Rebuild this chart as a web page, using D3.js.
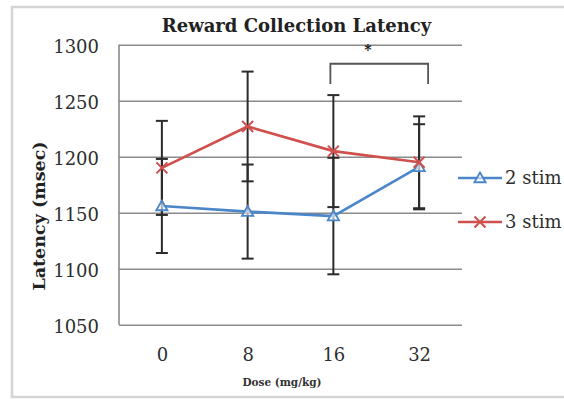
<!DOCTYPE html>
<html>
<head>
<meta charset="utf-8">
<script src="https://cdn.jsdelivr.net/npm/d3@7"></script>
<style>
  html, body { margin: 0; padding: 0; background: #fff; }
  svg { display: block; }
</style>
</head>
<body>
<svg id="chart" width="564" height="400"></svg>
<script>
// Dose groups and mean latencies (msec) with error bar half-widths
const doses = ["0", "8", "16", "32"];
const stim2 = [1156, 1151, 1147, 1191];
const stim2Err = [42, 42, 52, 38];
const stim3 = [1190, 1227, 1205, 1195];
const stim3Err = [42, 49, 50, 41];
const yTicks = [1050, 1100, 1150, 1200, 1250, 1300];
const seriesNames = ["2 stim", "3 stim"];
// significance bracket between two dose groups
const sigPair = ["16", "32"];
const sigTop = 1283;
const sigFoot = 1265;
const sigMark = "*";

(function () {
const svg = d3.select("#chart");
const serif = "'DejaVu Serif', serif";
const plotL = 119, plotR = 462, plotT = 44.7, plotB = 324.7;

const x = d3.scalePoint().domain(doses).range([plotL, plotR]).padding(0.5);
const y = d3.scaleLinear().domain([1050, 1300]).range([plotB, plotT]);

// outer chart frame
svg.append("rect")
  .attr("x", 12).attr("y", 7).attr("width", 600).attr("height", 390)
  .attr("fill", "#fff").attr("stroke", "#d4d4d4").attr("stroke-width", 2.5);

// value axis with gridlines
const yAxis = svg.append("g")
  .attr("transform", `translate(${plotL},0)`)
  .call(d3.axisLeft(y).tickValues(yTicks).tickSize(-(plotR - plotL)).tickPadding(20).tickFormat(d3.format("d")));
yAxis.select(".domain").remove();
yAxis.selectAll(".tick line").attr("stroke", "#8a8a8a").attr("stroke-width", 1.6);
yAxis.selectAll(".tick text")
  .attr("font-family", serif).attr("font-size", 18).attr("fill", "#2e2e2e").attr("dy", "0.42em");
svg.append("line")
  .attr("x1", plotL).attr("x2", plotL).attr("y1", plotT).attr("y2", plotB)
  .attr("stroke", "#8a8a8a").attr("stroke-width", 1.6);

// category axis labels
const xAxis = svg.append("g")
  .attr("transform", `translate(0,${plotB})`)
  .call(d3.axisBottom(x).tickSize(0).tickPadding(24));
xAxis.select(".domain").remove();
xAxis.selectAll(".tick text")
  .attr("font-family", serif).attr("font-size", 18).attr("fill", "#2e2e2e");

// titles
svg.append("text")
  .attr("x", 296.5).attr("y", 32).attr("text-anchor", "middle")
  .attr("font-family", serif).attr("font-weight", "bold").attr("font-size", 18)
  .attr("fill", "#222").text("Reward Collection Latency");

svg.append("text")
  .attr("transform", "translate(45,216) rotate(-90)")
  .attr("text-anchor", "middle")
  .attr("font-family", serif).attr("font-weight", "bold").attr("font-size", 17.5)
  .attr("fill", "#222").text("Latency (msec)");

svg.append("text")
  .attr("x", 282).attr("y", 386).attr("text-anchor", "middle")
  .attr("font-family", serif).attr("font-weight", "bold").attr("font-size", 10.5)
  .attr("fill", "#333").text("Dose (mg/kg)");

// error bars
const capHalf = 6;
function errorBars(vals, errs) {
  const g = svg.append("g").attr("stroke", "#2b2b2b").attr("stroke-width", 2);
  doses.forEach((d, i) => {
    const cx = x(d), lo = y(vals[i] - errs[i]), hi = y(vals[i] + errs[i]);
    g.append("line").attr("x1", cx).attr("x2", cx).attr("y1", lo).attr("y2", hi);
    g.append("line").attr("x1", cx - capHalf).attr("x2", cx + capHalf).attr("y1", lo).attr("y2", lo);
    g.append("line").attr("x1", cx - capHalf).attr("x2", cx + capHalf).attr("y1", hi).attr("y2", hi);
  });
}
errorBars(stim2, stim2Err);
errorBars(stim3, stim3Err);

// series lines and markers
const blue = "#4a86c8", red = "#d0504d";
const line = d3.line().x(d => x(d[0])).y(d => y(d[1]));
const tri = d3.symbol().type(d3.symbolTriangle).size(55);

function drawTriangle(g, cx, cy) {
  g.append("path").attr("d", tri()).attr("transform", `translate(${cx},${cy + 1})`)
    .attr("fill", "#fff").attr("fill-opacity", 0.6).attr("stroke", blue).attr("stroke-width", 1.8);
}
function drawCross(g, cx, cy) {
  const s = 5.5;
  g.append("path").attr("d", `M${cx - s},${cy - s}L${cx + s},${cy + s}M${cx - s},${cy + s}L${cx + s},${cy - s}`)
    .attr("stroke", red).attr("stroke-width", 2).attr("fill", "none");
}

const g2 = svg.append("g");
g2.append("path").datum(doses.map((d, i) => [d, stim2[i]])).attr("d", line)
  .attr("fill", "none").attr("stroke", blue).attr("stroke-width", 2.6);
doses.forEach((d, i) => drawTriangle(g2, x(d), y(stim2[i])));

const g3 = svg.append("g");
g3.append("path").datum(doses.map((d, i) => [d, stim3[i]])).attr("d", line)
  .attr("fill", "none").attr("stroke", red).attr("stroke-width", 2.6);
doses.forEach((d, i) => drawCross(g3, x(d), y(stim3[i])));

// significance bracket
const bx1 = x(sigPair[0]) - 3, bx2 = x(sigPair[1]) + 9;
svg.append("path")
  .attr("d", `M${bx1},${y(sigFoot)}V${y(sigTop)}H${bx2}V${y(sigFoot)}`)
  .attr("fill", "none").attr("stroke", "#555").attr("stroke-width", 1.8);
svg.append("text")
  .attr("x", 368).attr("y", y(1300) + 10).attr("text-anchor", "middle")
  .attr("font-family", serif).attr("font-weight", "bold").attr("font-size", 14)
  .attr("fill", "#111").text(sigMark);

// legend
const legendY = [178, 222];
const lg = svg.append("g");
seriesNames.forEach((name, i) => {
  const col = i === 0 ? blue : red;
  lg.append("line").attr("x1", 458).attr("x2", 502).attr("y1", legendY[i]).attr("y2", legendY[i])
    .attr("stroke", col).attr("stroke-width", 2.6);
  if (i === 0) drawTriangle(lg, 480, legendY[i]); else drawCross(lg, 480, legendY[i]);
  lg.append("text").attr("x", 505).attr("y", legendY[i]).attr("dy", "0.36em")
    .attr("font-family", serif).attr("font-size", 18).attr("fill", "#2e2e2e").text(name);
});
})();
</script>
</body>
</html>
